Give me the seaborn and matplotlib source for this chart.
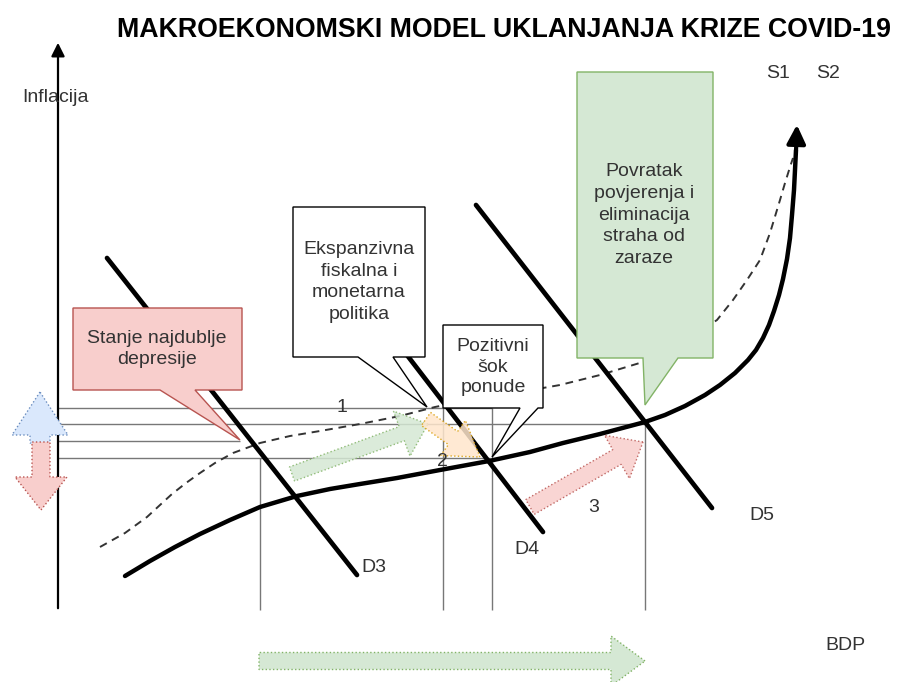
import numpy as np
import pandas as pd
import matplotlib
matplotlib.use("Agg")
import matplotlib.pyplot as plt
import seaborn as sns
from matplotlib.patches import Polygon, FancyArrow

# --- data (diagram units) ---
s2_x = [125, 150, 175, 200, 230, 260, 297, 330, 360, 397, 440, 489, 530, 563, 600, 645,
        665, 685, 705, 720, 735, 748, 756, 763, 769, 774, 779, 783, 787, 790, 792, 794,
        795, 796]
s2_y = [576, 561, 547, 534, 520, 507, 496, 489, 484, 478, 470, 461, 452, 443, 434, 422,
        415, 406, 395, 385, 373, 360, 350, 338, 325, 311, 295, 279, 259, 238, 215, 190,
        170, 150]
s1_x = [100, 125, 147, 160, 172, 186, 200, 215, 233, 260, 290, 320, 360, 400, 435, 470,
        520, 560, 600, 643, 680, 717, 733, 747, 760, 770, 780, 785, 790, 793]
s1_y = [547, 533, 517, 505, 494, 483, 473, 463, 453, 443, 436, 431, 424, 416, 407, 400,
        392, 385, 375, 362, 345, 320, 300, 280, 260, 233, 200, 183, 167, 158]
demand = {"D3": ([107, 357], [258, 575]),
          "D4": ([297, 543], [212, 532]),
          "D5": ([476, 712], [205, 508])}
demand_label_pos = {"D3": (374, 567), "D4": (527, 550), "D5": (762, 515)}

guide_h_y = [408, 424, 441, 458]
guide_h_end = [492, 645, 240, 490]
guide_v_x = [260, 443, 492, 645]
guide_v_top = [458, 408, 408, 424]

title = "MAKROEKONOMSKI MODEL UKLANJANJA KRIZE COVID-19"

sns.set_theme(style="white")
plt.rcParams["font.family"] = ["Liberation Sans", "DejaVu Sans"]

fig = plt.figure(figsize=(9.02, 6.82), dpi=100)
ax = fig.add_axes([0, 0, 1, 1])
ax.set_xlim(0, 902)
ax.set_ylim(682, 0)
ax.axis("off")

txt = "#333333"
gray = "#777777"
fs = 14
ls = 1.38

# guide lines
ax.hlines(guide_h_y, 58, guide_h_end, color=gray, lw=1, zorder=1)
ax.vlines(guide_v_x, guide_v_top, 610, color=gray, lw=1, zorder=1)

# axes arrows
ax.annotate("", xy=(58, 40), xytext=(58, 611),
            arrowprops=dict(arrowstyle="-|>", lw=1.6, mutation_scale=20, color="black"), zorder=2)
ax.annotate("", xy=(904, 610), xytext=(57, 610),
            arrowprops=dict(arrowstyle="-|>", lw=1.6, mutation_scale=20, color="black"), zorder=2)

# supply curves
sns.lineplot(x=s1_x, y=s1_y, ax=ax, color="#333333", lw=1.4, linestyle=(0, (4, 3)),
             sort=False, estimator=None, zorder=2)
sns.lineplot(x=s2_x, y=s2_y, ax=ax, color="black", lw=3.2, sort=False, estimator=None, zorder=3)
ax.annotate("", xy=(797, 122), xytext=(796, 152),
            arrowprops=dict(arrowstyle="-|>", lw=3, mutation_scale=28, color="black"), zorder=3)

# demand curves
for name, (dx, dy) in demand.items():
    sns.lineplot(x=dx, y=dy, ax=ax, color="black", lw=3.4, sort=False, estimator=None, zorder=3)
    ax.text(*demand_label_pos[name], name, ha="center", va="center", fontsize=fs, color=txt)


def callout(box, tail, tip, fc, ec, zorder=5):
    x0, y0, x1, y1 = box
    pts = [(x0, y0), (x1, y0), (x1, y1), (tail[1], y1), tip, (tail[0], y1), (x0, y1)]
    ax.add_patch(Polygon(pts, closed=True, fc=fc, ec=ec, lw=1, zorder=zorder))


callout((73, 308, 242, 390), (160, 195), (240, 440), "#f8cecc", "#b85450")
ax.text(157, 349, "Stanje najdublje\ndepresije", ha="center", va="center", fontsize=fs,
        color=txt, linespacing=ls, zorder=6)

callout((293, 207, 425, 357), (358, 393), (427, 407), "white", "black")
ax.text(359, 282, "Ekspanzivna\nfiskalna i\nmonetarna\npolitika", ha="center", va="center",
        fontsize=fs, color=txt, linespacing=ls, zorder=6)

callout((443, 325, 543, 408), (520, 538), (492, 457), "white", "black")
ax.text(493, 367, "Pozitivni\nšok\nponude", ha="center", va="center", fontsize=fs,
        color=txt, linespacing=1.3, zorder=6)

callout((577, 72, 713, 358), (643, 678), (645, 405), "#d5e8d4", "#82b366")
ax.text(644, 215, "Povratak\npovjerenja i\neliminacija\nstraha od\nzaraze", ha="center",
        va="center", fontsize=fs, color=txt, linespacing=ls, zorder=6)

# block arrows
def block(x, y, dx, dy, w, hw, hl, fc, ec, alpha=0.85):
    ax.add_patch(FancyArrow(x, y, dx, dy, width=w, head_width=hw, head_length=hl,
                            length_includes_head=True, fc=fc, ec=ec, ls=":", lw=1,
                            alpha=alpha, zorder=4))


block(292, 474, 136, -50, 15, 48, 28, "#d5e8d4", "#82b366")
block(426, 419, 54, 38, 16, 43, 33, "#ffe6cc", "#d79b00")
block(530, 507, 113, -65, 17, 50, 30, "#f8cecc", "#b85450")
block(40, 443, 0, -51, 20, 56, 43, "#dae8fc", "#6c8ebf", 1)
block(41, 442, 0, 68, 18, 52, 33, "#f8cecc", "#b85450", 1)
block(259, 661, 386, 0, 17, 50, 34, "#d5e8d4", "#82b366", 1)

# labels
ax.text(342, 407, "1", ha="center", va="center", fontsize=fs, color=txt, zorder=6)
ax.text(442, 461, "2", ha="center", va="center", fontsize=fs, color=txt, zorder=6)
ax.text(594, 508, "3", ha="center", va="center", fontsize=fs, color=txt, zorder=6)
ax.text(55, 97, "Inflacija", ha="center", va="center", fontsize=fs, color=txt)
ax.text(845, 646, "BDP", ha="center", va="center", fontsize=fs, color=txt)
ax.text(778, 74, "S1", ha="center", va="center", fontsize=fs, color=txt)
ax.text(828, 74, "S2", ha="center", va="center", fontsize=fs, color=txt)
ax.text(504, 30, title, ha="center", va="center", fontsize=19.3, fontweight="bold",
        color="black")

fig.savefig("out.png", dpi=100)
